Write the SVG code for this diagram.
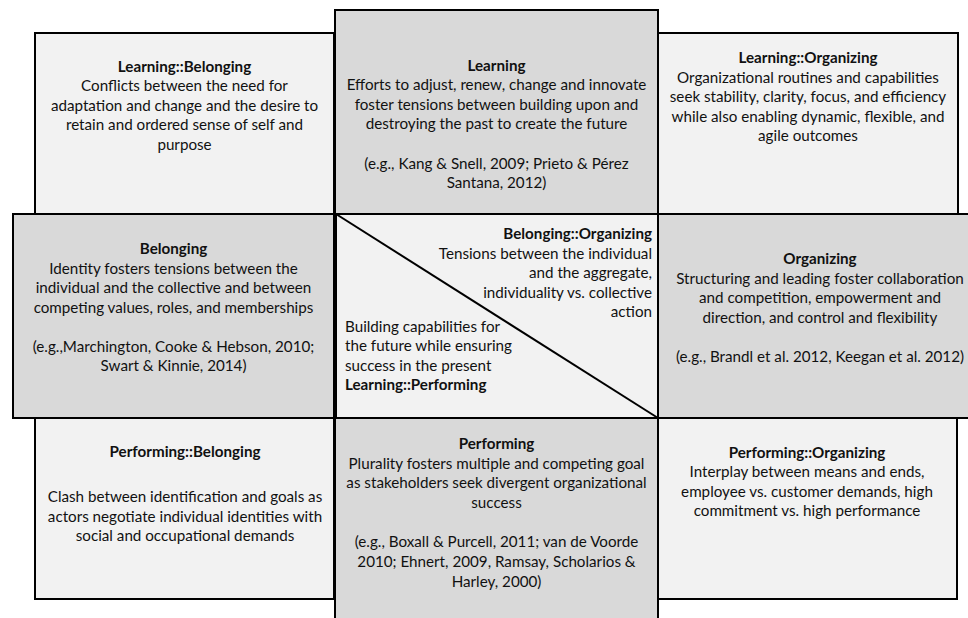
<svg xmlns="http://www.w3.org/2000/svg" width="968" height="618" viewBox="0 0 968 618">
<style>
.light{fill:#f2f2f2;stroke:#000;stroke-width:2}
.dark{fill:#d9d9d9;stroke:#000;stroke-width:2}
text{font-family:Lato,"Liberation Sans","DejaVu Sans",sans-serif;font-size:15.2px;fill:#111}
.c{text-anchor:middle}
.r{text-anchor:end}
.b{font-weight:bold}
</style>
<rect width="968" height="618" fill="#fff"/>
<g id="learning-belonging">
<rect class="light" x="35" y="33" width="299" height="181"/>
<text class="c" x="184.5"><tspan class="b" x="184.5" y="71.5">Learning::Belonging</tspan><tspan x="184.5" y="91">Conflicts between the need for</tspan><tspan x="184.5" y="110.5">adaptation and change and the desire to</tspan><tspan x="184.5" y="130">retain and ordered sense of self and</tspan><tspan x="184.5" y="149.5">purpose</tspan></text>
</g>
<g id="learning-organizing">
<rect class="light" x="658" y="33" width="300" height="181"/>
<text class="c" x="808"><tspan class="b" x="808" y="63">Learning::Organizing</tspan><tspan x="808" y="82.5">Organizational routines and capabilities</tspan><tspan x="808" y="102">seek stability, clarity, focus, and efficiency</tspan><tspan x="808" y="121.5">while also enabling dynamic, flexible, and</tspan><tspan x="808" y="141">agile outcomes</tspan></text>
</g>
<g id="performing-belonging">
<rect class="light" x="35" y="418" width="299" height="181"/>
<text class="c" x="185"><tspan class="b" x="185" y="457">Performing::Belonging</tspan><tspan x="185" y="502">Clash between identification and goals as</tspan><tspan x="185" y="521.5">actors negotiate individual identities with</tspan><tspan x="185" y="541">social and occupational demands</tspan></text>
</g>
<g id="performing-organizing">
<rect class="light" x="658" y="418" width="299" height="181"/>
<text class="c" x="807"><tspan class="b" x="807" y="457.5">Performing::Organizing</tspan><tspan x="807" y="477">Interplay between means and ends,</tspan><tspan x="807" y="496.5">employee vs. customer demands, high</tspan><tspan x="807" y="516">commitment vs. high performance</tspan></text>
</g>
<g id="learning">
<rect class="dark" x="335" y="10" width="323" height="204"/>
<text class="c" x="496.5"><tspan class="b" x="496.5" y="70.5">Learning</tspan><tspan x="496.5" y="90">Efforts to adjust, renew, change and innovate</tspan><tspan x="496.5" y="109.5">foster tensions between building upon and</tspan><tspan x="496.5" y="129">destroying the past to create the future</tspan><tspan x="496.5" y="168.5">(e.g., Kang &amp; Snell, 2009; Prieto &amp; Pérez</tspan><tspan x="496.5" y="188">Santana, 2012)</tspan></text>
</g>
<g id="performing">
<rect class="dark" x="335" y="418" width="323" height="210"/>
<text class="c" x="496.5"><tspan class="b" x="496.5" y="449">Performing</tspan><tspan x="496.5" y="468.5">Plurality fosters multiple and competing goal</tspan><tspan x="496.5" y="488">as stakeholders seek divergent organizational</tspan><tspan x="496.5" y="507.5">success</tspan><tspan x="496.5" y="547">(e.g., Boxall &amp; Purcell, 2011; van de Voorde</tspan><tspan x="496.5" y="567">2010; Ehnert, 2009, Ramsay, Scholarios &amp;</tspan><tspan x="496.5" y="587">Harley, 2000)</tspan></text>
</g>
<g id="belonging">
<rect class="dark" x="13" y="214" width="321" height="204"/>
<text class="c" x="173.5"><tspan class="b" x="173.5" y="254">Belonging</tspan><tspan x="173.5" y="273.5">Identity fosters tensions between the</tspan><tspan x="173.5" y="293">individual and the collective and between</tspan><tspan x="173.5" y="312.5">competing values, roles, and memberships</tspan><tspan x="173.5" y="352">(e.g.,Marchington, Cooke &amp; Hebson, 2010;</tspan><tspan x="173.5" y="371">Swart &amp; Kinnie, 2014)</tspan></text>
</g>
<g id="organizing">
<rect class="dark" x="658" y="214" width="330" height="204"/>
<text class="c" x="820"><tspan class="b" x="820" y="264">Organizing</tspan><tspan x="820" y="283.5">Structuring and leading foster collaboration</tspan><tspan x="820" y="303">and competition, empowerment and</tspan><tspan x="820" y="322.5">direction, and control and flexibility</tspan><tspan x="820" y="362">(e.g., Brandl et al. 2012, Keegan et al. 2012)</tspan></text>
</g>
<g id="center">
<rect class="light" x="336" y="214" width="322" height="204"/>
<text class="r" x="652"><tspan class="b" x="652" y="239">Belonging::Organizing</tspan><tspan x="652" y="258.5">Tensions between the individual</tspan><tspan x="652" y="278">and the aggregate,</tspan><tspan x="652" y="297.5">individuality vs. collective</tspan><tspan x="652" y="317">action</tspan></text>
<text x="345"><tspan x="345" y="331.5">Building capabilities for</tspan><tspan x="345" y="351">the future while ensuring</tspan><tspan x="345" y="370.5">success in the present</tspan><tspan class="b" x="345" y="390">Learning::Performing</tspan></text>
</g>
<g id="connectors">
<line x1="336" y1="214" x2="658" y2="418" stroke="#000" stroke-width="2"/>
</g>
</svg>
